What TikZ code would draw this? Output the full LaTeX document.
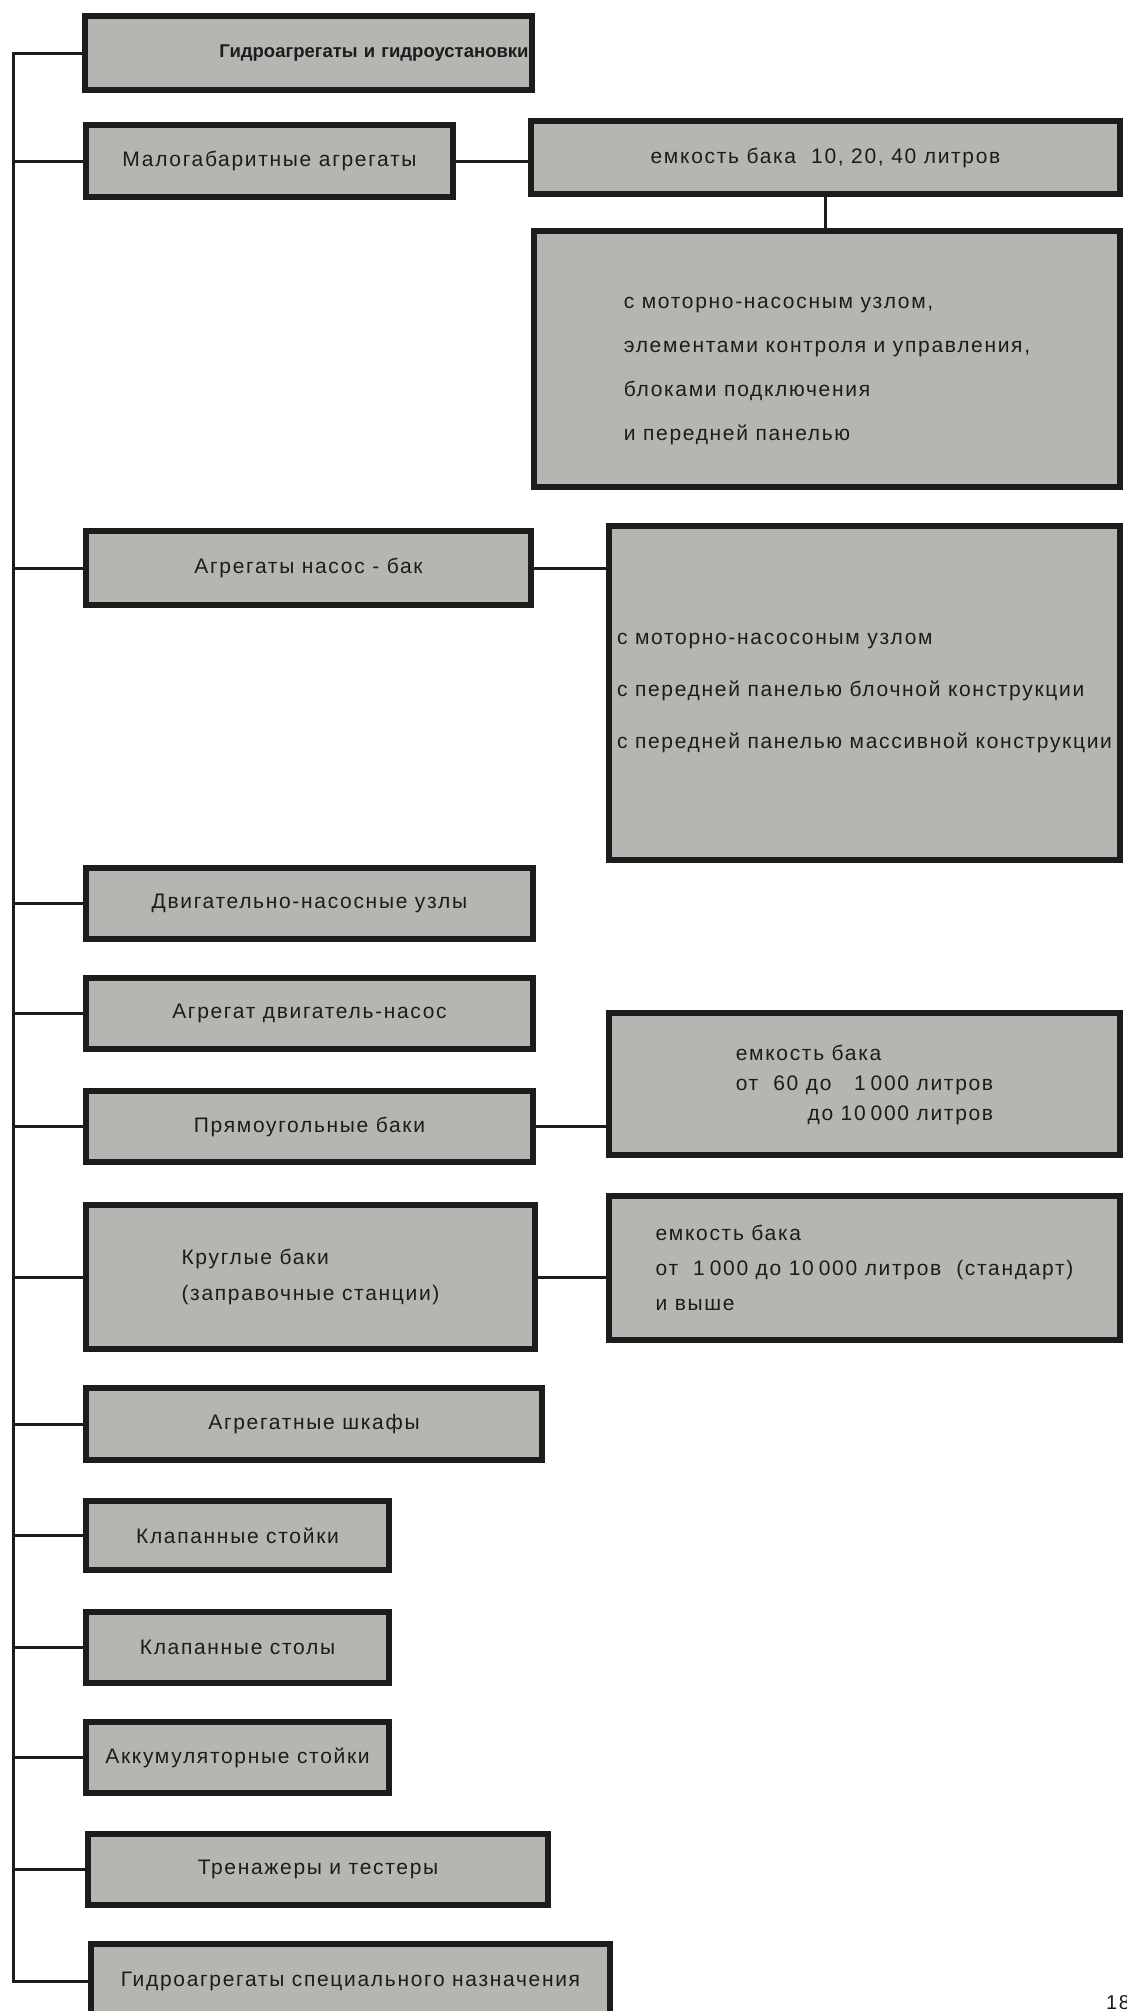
\documentclass[tikz,border=0pt]{standalone}
\usepackage{fontspec}
\setmainfont{Liberation Sans}[LetterSpace=8]
\usepackage{tikz}
\definecolor{boxgray}{HTML}{B4B6B2}
\definecolor{inkblack}{HTML}{1C1C1C}
\tikzset{
  box/.style={draw=inkblack, line width=6pt, fill=boxgray, inner sep=0pt, align=center, text=inkblack, font={\fontsize{21}{25}\selectfont}},
  link/.style={draw=inkblack, line width=3pt}
}

\begin{document}
\begin{tikzpicture}[x=1pt,y=-1pt]
  \useasboundingbox (0,0) rectangle (1127,2011);
  % left column
  \node[box, minimum width=447pt, minimum height=74pt, text width=440pt, align=right, font={\fontsize{18.5}{22}\selectfont\bfseries\addfontfeatures{LetterSpace=0}}] (main) at (308.5,53) {Гидроагрегаты и гидроустановки};
  \node[box, minimum width=367pt, minimum height=72pt] (compact) at (269.5,161) {Малогабаритные агрегаты};
  \node[box, minimum width=445pt, minimum height=74pt] (pumptank) at (308.5,568) {Агрегаты насос - бак};
  \node[box, minimum width=447pt, minimum height=71pt] (motorpump) at (309.5,903.5) {Двигательно-насосные узлы};
  \node[box, minimum width=447pt, minimum height=71pt] (enginepump) at (309.5,1013.5) {Агрегат двигатель-насос};
  \node[box, minimum width=447pt, minimum height=71pt] (recttank) at (309.5,1126.5) {Прямоугольные баки};
  \node[box, minimum width=449pt, minimum height=144pt, align=left, font={\fontsize{21}{36}\selectfont}] (roundtank) at (310.5,1277) {Круглые баки\\(заправочные станции)};
  \node[box, minimum width=456pt, minimum height=72pt] (cabinets) at (314,1424) {Агрегатные шкафы};
  \node[box, minimum width=303pt, minimum height=69pt] (valvestands) at (237.5,1535.5) {Клапанные стойки};
  \node[box, minimum width=303pt, minimum height=71pt] (valvetables) at (237.5,1647.5) {Клапанные столы};
  \node[box, minimum width=303pt, minimum height=71pt] (accstands) at (237.5,1757.5) {Аккумуляторные стойки};
  \node[box, minimum width=460pt, minimum height=71pt] (trainers) at (318,1869.5) {Тренажеры и тестеры};
  \node[box, minimum width=519pt, minimum height=74pt] (special) at (350.5,1981) {Гидроагрегаты специального назначения};
  % right column
  \node[box, minimum width=589pt, minimum height=73pt] (compactcap) at (825.5,157.5) {емкость бака\ \ 10, 20, 40 литров};
  \node[box, minimum width=586pt, minimum height=256pt, align=left, font={\fontsize{21}{44}\selectfont}] (compactkit) at (827,359)
    {\rule{0pt}{35pt}с моторно-насосным узлом,\\элементами контроля и управления,\\блоками подключения\\и передней панелью};
  \node[box, minimum width=511pt, minimum height=334pt, align=left, font={\fontsize{21}{52}\selectfont}] (pumptankopt) at (864.5,693)
    {с моторно-насосоным узлом\\с передней панелью блочной конструкции\\с передней панелью массивной конструкции};
  \node[box, minimum width=511pt, minimum height=142pt, font={\fontsize{21}{30}\selectfont}] (recttankcap) at (864.5,1084)
    {\begin{tabular}{@{}l@{}}емкость бака\\от\ \ 60 до\ \ \ 1\kern5pt 000 литров\\\hfill до 10\kern5pt 000 литров\end{tabular}};
  \node[box, minimum width=511pt, minimum height=144pt, align=left, font={\fontsize{21}{35}\selectfont}] (roundtankcap) at (864.5,1268)
    {емкость бака\\от\ \ 1\kern5pt 000 до 10\kern5pt 000 литров\ \ (стандарт)\\и выше};
  \node[font={\fontsize{20}{24}\selectfont}, text=inkblack, anchor=west, inner sep=0pt] (pagenum) at (1106,2003) {18};
  % connectors
  \draw[link] (compact.east) -- (compact.east -| compactcap.west);
  \draw[link] (compactcap.south) -- (compactcap.south |- compactkit.north);
  \draw[link] (pumptank.east) -- (pumptank.east -| pumptankopt.west);
  \draw[link] (recttank.east) -- (recttank.east -| recttankcap.west);
  \draw[link] (roundtank.east) -- (roundtank.east -| roundtankcap.west);
  \coordinate (trunk) at (13,0);
  \draw[link] (main.west) -| (trunk |- special.west) -- (special.west);
  \foreach \n in {compact,pumptank,motorpump,enginepump,recttank,roundtank,cabinets,valvestands,valvetables,accstands,trainers}
    \draw[link] (trunk |- \n.west) -- (\n.west);
\end{tikzpicture}
\end{document}
